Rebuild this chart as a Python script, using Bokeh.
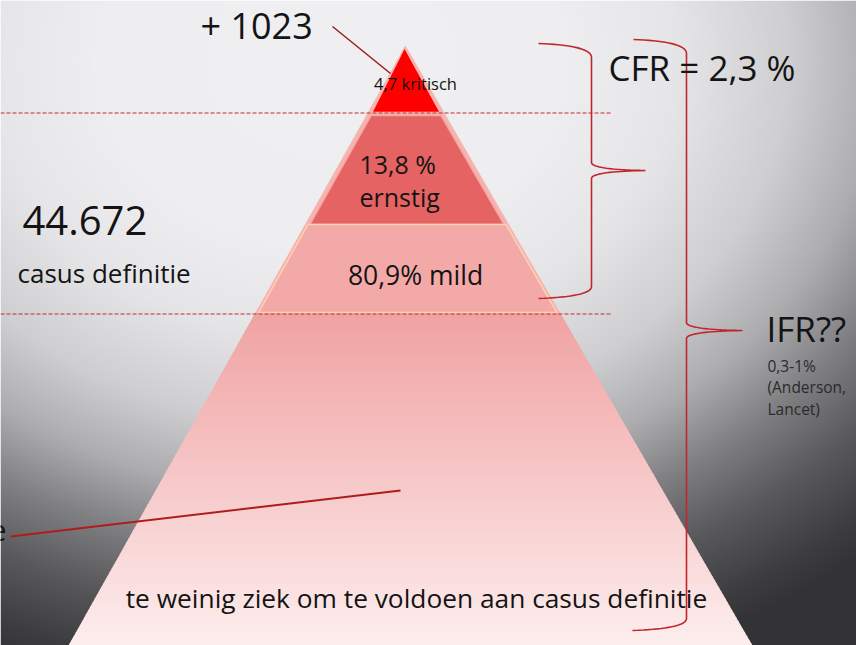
import numpy as np
from bokeh.plotting import figure
from bokeh.models import Range1d
from bokeh.embed import file_html
from bokeh.resources import INLINE
from bokeh.core.properties import value

# ---------------- data ----------------
tier_names = ["kritisch", "ernstig", "mild"]
tier_pct = [4.7, 13.8, 80.9]
tier_colors = ["#ff0000", "#e56363", "#f4a9a9"]
deaths_label = "+ 1023"
cases_label = "44.672"
cases_caption = "casus definitie"
cfr_label = "CFR = 2,3 %"
ifr_label = "IFR??"
ifr_notes = ["0,3-1%", "(Anderson,", "Lancet)"]
base_caption = "te weinig ziek om te voldoen aan casus definitie"

# ---------------- layout (page pixel coordinates) ----------------
W, H = 856, 645
FONT = value("Open Sans")


def Y(py):
    return H - py


apex = (405.0, 45.0)
base_l = (68.0, 645.0)
base_r = (752.0, 645.0)


def xl(py):
    return apex[0] + (base_l[0] - apex[0]) * (py - apex[1]) / (base_l[1] - apex[1])


def xr(py):
    return apex[0] + (base_r[0] - apex[0]) * (py - apex[1]) / (base_r[1] - apex[1])


tier_bounds = [(47.0, 112.0), (115.0, 224.0), (224.0, 312.0)]

p = figure(width=W, height=H, x_range=Range1d(0, W), y_range=Range1d(0, H),
           output_backend="svg", toolbar_location=None, x_axis_type=None, y_axis_type=None,
           min_border=0)
p.outline_line_color = None
p.background_fill_color = None
p.border_fill_color = None
p.grid.visible = False

# background radial gradient
yy, xx = np.mgrid[0:H, 0:W].astype(float)
d = np.sqrt(((xx - 330) / 780) ** 2 + ((yy - 60) / 620) ** 2)
v = np.interp(d, [0, 0.3, 0.445, 0.59, 0.70, 0.80, 0.90, 1.0, 1.05],
              [0.94, 0.935, 0.90, 0.81, 0.68, 0.50, 0.35, 0.24, 0.20])
img = np.empty((H, W), dtype=np.uint32)
view = img.view(dtype=np.uint8).reshape((H, W, 4))
view[..., 0] = (v * 255).astype(np.uint8)
view[..., 1] = (v * 255).astype(np.uint8)
view[..., 2] = np.clip(v * 255 + 3, 0, 255).astype(np.uint8)
view[..., 3] = 255
p.image_rgba(image=[img[::-1].copy()], x=0, y=0, dw=W, dh=H)

# big pyramid: upper halo
top_y, mid_y = apex[1], 312.0
p.patch(x=[apex[0], xl(mid_y), xr(mid_y)], y=[Y(top_y), Y(mid_y), Y(mid_y)],
        fill_color="#f5b4b0", line_color=None)

# big pyramid lower gradient
c0 = np.array([0xf0, 0xa2, 0xa2], float)
c1 = np.array([0xfd, 0xee, 0xee], float)
ys = np.linspace(mid_y, H + 2, 90)
xs_list, ys_list, cols = [], [], []
for k in range(len(ys) - 1):
    a, b = ys[k], ys[k + 1] + 0.8
    t = (k + 0.5) / (len(ys) - 1)
    c = c0 + (c1 - c0) * t
    xs_list.append([xl(a), xr(a), xr(b), xl(b)])
    ys_list.append([Y(a), Y(a), Y(b), Y(b)])
    cols.append("#%02x%02x%02x" % tuple(int(round(q)) for q in c))
p.patches(xs=xs_list, ys=ys_list, fill_color=cols, line_color=None)

# tiers
inset = [4.0, 5.0, 3.0]
outline = ["#f7b9b0", "#f0a8a0", "#fbd2b2"]
for i, (a, b) in enumerate(tier_bounds):
    if i == 0:
        xsq = [apex[0] - 1, xr(b) - inset[i], xl(b) + inset[i]]
        ysq = [Y(a), Y(b), Y(b)]
    else:
        xsq = [xl(a) + inset[i], xr(a) - inset[i], xr(b) - inset[i], xl(b) + inset[i]]
        ysq = [Y(a), Y(a), Y(b), Y(b)]
    p.patch(x=xsq, y=ysq, fill_color=tier_colors[i], line_color=outline[i], line_width=1.5)

# dashed level lines
for py in [112.5, 313.5]:
    p.line(x=[0, 612], y=[Y(py), Y(py)], line_color="#c8282a", line_width=1, line_dash="4 2")


# braces
def bez(p0, p1, p2, n=20):
    t = np.linspace(0, 1, n)
    x = (1 - t) ** 2 * p0[0] + 2 * (1 - t) * t * p1[0] + t ** 2 * p2[0]
    y = (1 - t) ** 2 * p0[1] + 2 * (1 - t) * t * p1[1] + t ** 2 * p2[1]
    return list(x), list(y)


def brace(x0, xv, xt, ytop, ytip, ybot, x0b):
    X, Yp = [], []
    for seg in [bez((x0, ytop), (xv, ytop + 2), (xv, ytop + 14)),
                ([xv, xv], [ytop + 14, ytip - 8]),
                bez((xv, ytip - 8), (xv, ytip - 1), (xt, ytip)),
                bez((xt, ytip), (xv, ytip + 1), (xv, ytip + 8)),
                ([xv, xv], [ytip + 8, ybot - 12]),
                bez((xv, ybot - 12), (xv, ybot - 2), (x0b, ybot))]:
        X += list(seg[0])
        Yp += list(seg[1])
    p.line(x=X, y=[Y(q) for q in Yp], line_color="#c0272d", line_width=1.6)


brace(538, 591, 645, 43, 170, 298, 538)
brace(633, 686, 742, 39, 330, 630, 632)

# pointer lines
p.line(x=[332, 390], y=[Y(26), Y(73)], line_color="#9b1b1b", line_width=1.5)
p.line(x=[10, 400], y=[Y(536), Y(490)], line_color="#b01c1c", line_width=2)

# texts
dark = "#141414"


def txt(x, y, s, size, align="left", color=dark):
    p.text(x=[x], y=[Y(y)], text=[s], text_font=FONT, text_font_size=value(f"{size}px"),
           text_align=align, text_baseline="middle", text_color=color)


txt(200, 25, deaths_label, 36)
txt(415, 83, f"{tier_pct[0]:.1f}".replace(".", ",") + " " + tier_names[0], 16.5, "center")
txt(359, 163, f"{tier_pct[1]:.1f}".replace(".", ",") + " %", 25)
txt(359, 196, tier_names[1], 25)
txt(415, 274, f"{tier_pct[2]:.1f}".replace(".", ",") + "% " + tier_names[2], 26.5, "center")
txt(22, 220, cases_label, 40)
txt(17, 272, cases_caption, 26)
txt(608, 67, cfr_label, 35)
txt(766, 328, ifr_label, 35)
for k, s in enumerate(ifr_notes):
    txt(767, 365 + 21.5 * k, s, 15.5, color="#2a2a2a")
txt(416, 597, base_caption, 26.3, "center")
txt(6, 530, "e", 30, "right")

open("out.html", "w").write(file_html(p, INLINE))
